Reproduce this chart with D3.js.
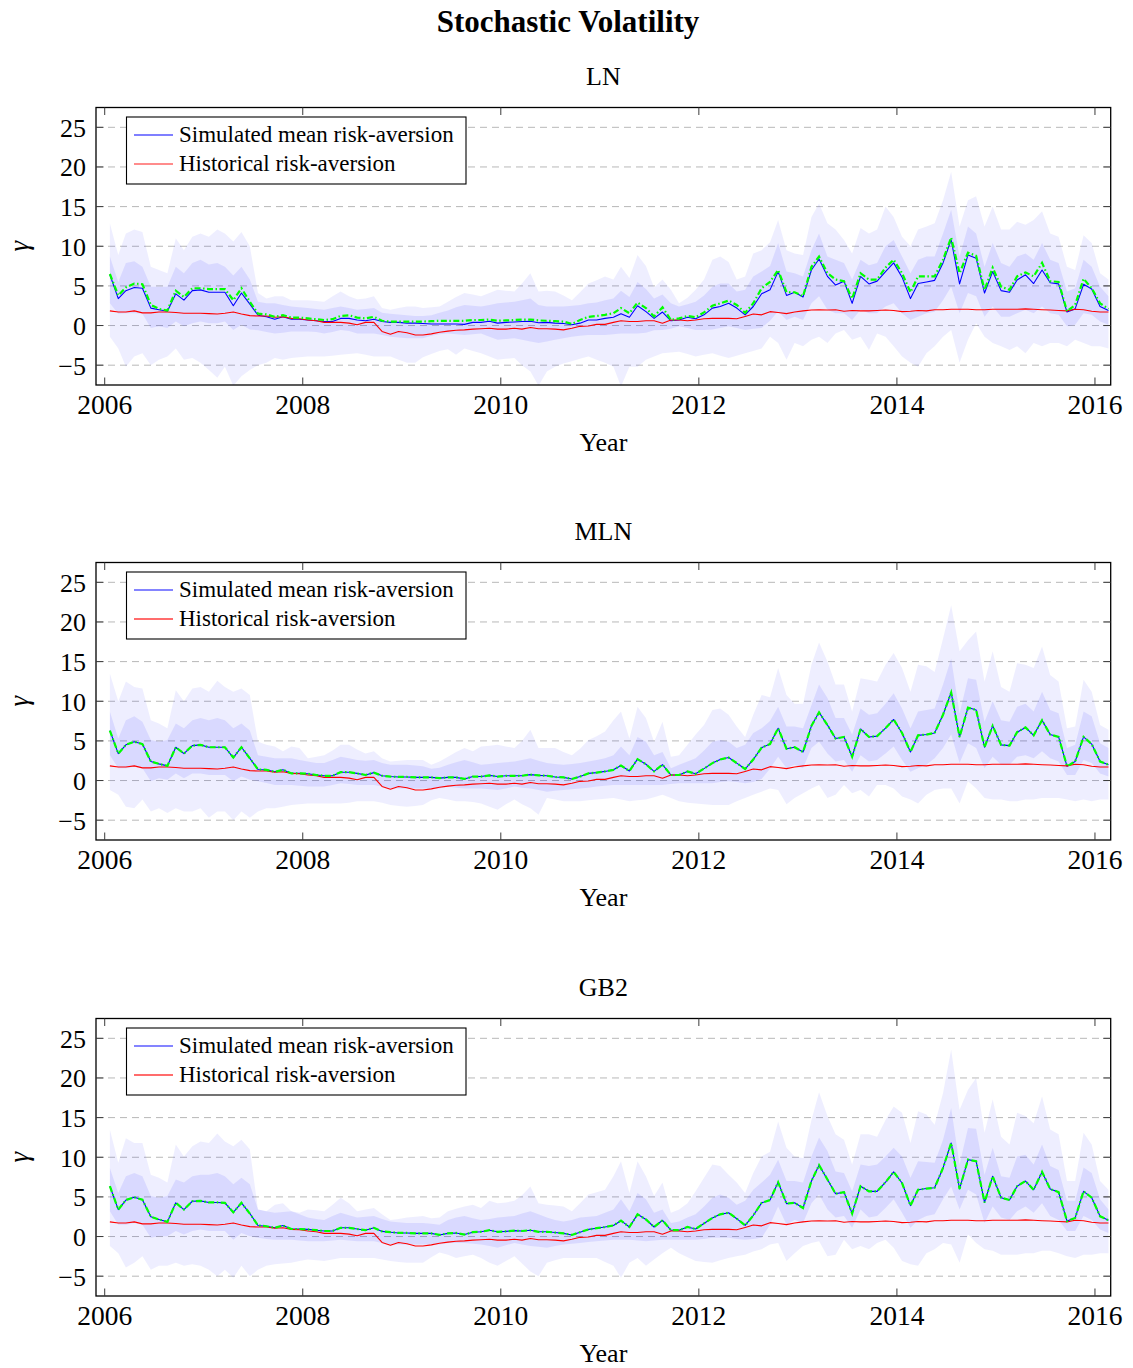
<!DOCTYPE html>
<html>
<head>
<meta charset="utf-8">
<script src="https://cdn.jsdelivr.net/npm/d3@7"></script>
<style>
  body { margin: 0; background: #ffffff; }
  svg { display: block; }
  text { font-family: "Liberation Serif", "Times New Roman", Times, serif; fill: #000; }
</style>
</head>
<body>
<svg id="chart" width="1133" height="1368"></svg>
<script>
// ---------------------------------------------------------------------------
// Monthly observations, Jan 2006 – Feb 2016 (122 months, sampled on the 20th)
// ---------------------------------------------------------------------------
const firstObs = { year: 2006, month: 0, day: 20 };
const obsCount = 122;

const yearTicks = [2006, 2008, 2010, 2012, 2014, 2016];
const gammaTicks = [-5, 0, 5, 10, 15, 20, 25];
const panelTitles = ["LN", "MLN", "GB2"];
const legendLabels = ["Simulated mean risk-aversion", "Historical risk-aversion"];

// Historical risk-aversion (same series in all three panels)
const historical = [
  1.85,1.7,1.7,1.85,1.6,1.6,1.7,1.7,1.65,1.55,
  1.55,1.55,1.5,1.45,1.55,1.7,1.45,1.25,1.2,1.2,
  1.05,1.1,0.9,0.85,0.7,0.6,0.4,0.4,0.4,0.3,
  0.1,0.4,0.4,-0.75,-1.1,-0.75,-0.9,-1.2,-1.2,-1.05,
  -0.85,-0.7,-0.6,-0.55,-0.45,-0.4,-0.35,-0.45,-0.45,-0.35,
  -0.45,-0.25,-0.4,-0.4,-0.45,-0.55,-0.35,-0.1,-0.05,0.15,
  0.15,0.4,0.6,0.5,0.5,0.6,0.6,0.3,0.7,0.7,
  0.6,0.7,0.85,0.9,0.9,0.9,0.85,1.15,1.45,1.35,
  1.75,1.65,1.5,1.7,1.85,1.95,2.0,1.95,2.0,1.8,
  1.9,1.85,1.85,1.9,1.95,1.9,1.75,1.8,1.9,1.85,
  2.0,2.0,2.05,2.05,2.05,2.0,2.0,2.05,2.05,2.05,
  2.05,2.1,2.05,2.0,1.95,1.9,1.85,2.05,2.0,1.8,
  1.7,1.7
];

// ---------------- LN ----------------
const lnMean = [
  6.4,3.4,4.4,4.8,4.7,2.2,2.0,1.8,4.0,3.2,
  4.4,4.5,4.2,4.2,4.2,2.5,4.1,2.7,1.3,1.1,
  0.8,1.1,0.8,0.8,0.7,0.6,0.5,0.5,0.9,0.9,
  0.7,0.6,0.8,0.5,0.4,0.4,0.3,0.3,0.25,0.2,
  0.2,0.2,0.2,0.15,0.4,0.4,0.55,0.3,0.4,0.45,
  0.5,0.55,0.35,0.4,0.3,0.25,0.1,0.3,0.7,0.7,
  0.9,1.05,1.5,1.05,2.5,1.75,0.9,1.7,0.6,0.7,
  1.05,0.85,1.35,2.2,2.4,2.8,2.2,1.35,2.4,4.0,
  4.5,6.8,3.8,4.2,3.6,7.0,8.4,6.2,5.1,5.6,
  2.8,6.2,5.25,5.6,6.8,7.9,6.1,3.4,5.3,5.5,
  5.7,7.9,10.8,5.25,8.9,8.5,4.1,6.8,4.4,4.2,
  5.75,6.4,5.3,7.0,5.4,5.25,1.7,2.1,5.2,4.6,
  2.4,1.9
];
const lnMedian = [
  6.5,3.8,4.8,5.3,5.2,2.6,2.1,1.9,4.4,3.6,
  4.7,4.7,4.6,4.6,4.6,3.2,4.7,3.0,1.5,1.4,
  1.1,1.3,1.0,1.0,0.9,0.8,0.7,0.8,1.2,1.3,
  1.0,0.9,1.1,0.6,0.5,0.5,0.5,0.5,0.5,0.55,
  0.6,0.6,0.6,0.6,0.7,0.7,0.75,0.6,0.65,0.7,
  0.75,0.75,0.65,0.6,0.55,0.5,0.2,0.7,1.1,1.2,
  1.35,1.55,2.2,1.55,2.9,2.2,1.15,2.3,0.7,0.9,
  1.2,1.05,1.65,2.5,2.8,3.15,2.6,1.6,2.8,4.7,
  5.5,7.0,4.2,4.2,3.7,7.4,8.7,6.6,5.8,5.6,
  3.4,6.6,5.8,5.8,7.3,8.3,6.6,4.2,6.2,6.2,
  6.2,8.3,11.1,6.6,9.2,8.8,4.5,7.3,4.9,4.5,
  6.2,6.7,6.2,7.9,5.6,5.5,1.8,2.6,5.9,4.7,
  2.8,2.1
];
const lnOuterHi = [
  12.9,8.9,11.6,12.1,11.8,7.4,7.0,6.6,11.0,9.5,
  11.2,11.6,11.2,12.1,11.6,10.6,11.8,10.0,4.1,3.4,
  3.7,3.7,3.2,3.2,3.2,3.1,3.0,3.7,4.3,3.7,
  3.3,3.4,3.7,2.2,2.0,2.2,2.4,2.4,2.2,2.3,
  2.4,3.0,3.6,4.1,3.9,3.7,4.1,4.5,4.4,4.3,
  5.3,6.6,4.3,4.4,4.3,3.8,3.2,4.2,5.3,5.7,
  6.2,5.8,7.4,6.0,8.9,7.5,4.8,5.8,4.5,2.8,
  3.5,4.5,5.8,8.3,8.7,8.0,5.8,6.2,9.1,9.5,
  10.5,13.3,9.5,9.1,8.9,13.7,15.4,12.9,12.1,10.8,
  9.1,12.3,11.6,12.1,15.0,13.7,11.2,10.0,12.1,12.5,
  12.9,15.8,19.4,12.5,15.8,16.3,12.5,15.0,12.1,12.1,
  13.1,12.7,13.3,14.4,11.6,11.2,7.4,7.0,11.4,10.4,
  6.6,5.8
];
const lnInnerHi = [
  8.7,5.5,7.9,8.1,7.4,4.9,4.9,4.9,7.4,6.6,
  7.9,8.3,7.7,7.9,7.4,6.3,7.4,5.8,3.0,2.8,
  2.8,2.6,2.4,2.3,2.2,2.1,2.0,2.2,2.4,2.2,
  2.0,2.1,2.2,1.6,1.5,1.4,1.3,1.2,1.2,1.3,
  1.6,1.9,2.3,2.6,2.5,2.4,2.6,2.8,2.9,3.0,
  3.2,3.4,2.6,2.4,2.4,2.4,2.5,2.6,2.8,2.9,
  3.2,3.4,4.4,3.6,5.5,4.6,3.4,3.9,2.8,2.4,
  2.7,3.0,3.8,4.9,5.3,5.3,4.3,4.5,6.2,6.8,
  7.5,10.4,6.8,6.6,6.2,9.5,11.6,8.7,8.3,7.9,
  5.8,8.3,7.6,7.9,10.0,10.8,8.7,6.6,8.3,8.7,
  8.7,11.6,14.6,8.7,12.5,11.6,7.4,10.4,7.9,7.4,
  8.7,9.1,8.3,10.4,8.3,7.9,4.3,4.7,8.3,7.4,
  4.9,3.7
];
const lnInnerLo = [
  2.8,1.5,1.55,1.55,1.5,-0.3,-0.1,-0.3,0.5,-0.1,
  0.3,0.5,0.3,0.3,0.5,-0.55,0.1,-0.5,-0.6,-0.8,
  -1.0,-0.9,-0.75,-0.75,-0.75,-0.8,-1.0,-0.8,-0.55,-0.7,
  -1.0,-1.0,-1.0,-1.2,-1.4,-1.5,-1.6,-1.6,-1.6,-1.3,
  -1.1,-1.0,-1.1,-1.2,-1.1,-1.0,-1.4,-1.8,-1.7,-1.6,
  -1.8,-2.0,-2.2,-2.0,-1.8,-1.6,-1.4,-1.3,-1.2,-1.2,
  -1.2,-1.1,-1.0,-1.0,-1.0,-0.9,-0.6,-0.55,-0.4,-0.1,
  -0.3,-0.55,-0.55,-0.5,-0.3,-0.1,-0.3,-0.55,-0.4,-0.3,
  0.6,1.8,0.7,1.1,0.7,2.8,3.7,2.0,1.55,1.55,
  0.7,2.0,1.55,1.55,2.4,2.8,1.55,0.7,1.1,1.55,
  1.75,3.2,4.9,1.55,4.1,3.7,1.1,2.4,1.1,1.1,
  1.55,2.0,1.55,2.4,1.55,1.35,-0.1,0.1,1.55,1.35,
  0.5,0.1
];
const lnOuterLo = [
  -1.4,-2.9,-5.2,-3.9,-3.5,-5.0,-4.3,-3.9,-2.9,-4.3,
  -4.1,-4.7,-5.6,-6.6,-5.2,-7.6,-6.4,-5.6,-5.0,-4.7,
  -4.1,-4.3,-4.1,-4.0,-3.9,-3.9,-3.9,-3.8,-3.7,-3.6,
  -3.5,-3.7,-3.9,-3.9,-3.9,-4.3,-4.7,-4.7,-4.0,-3.6,
  -3.2,-3.0,-3.7,-2.9,-3.2,-3.5,-3.9,-4.3,-4.2,-4.1,
  -5.0,-5.8,-7.6,-5.8,-5.2,-4.8,-4.5,-4.2,-3.9,-4.3,
  -4.7,-5.2,-7.7,-5.2,-5.2,-4.3,-3.9,-3.5,-3.4,-3.3,
  -3.6,-3.9,-3.7,-3.5,-3.8,-4.1,-3.8,-3.5,-3.2,-2.9,
  -1.4,-2.2,-4.3,-2.2,-2.6,-1.8,-1.4,-2.2,-1.0,-0.55,
  -1.8,-1.4,-3.1,-1.0,-1.4,-2.6,-3.9,-4.7,-5.2,-3.5,
  -2.6,-1.4,-0.55,-4.7,-1.8,0.3,-1.4,-2.2,-2.6,-3.1,
  -2.6,-3.5,-2.2,-2.6,-2.2,-2.2,-2.6,-1.8,-2.2,-2.6,
  -2.6,-2.9
];

// ---------------- MLN ----------------
const mlnMean = [
  6.3,3.4,4.5,4.9,4.6,2.4,2.1,1.85,4.2,3.4,
  4.4,4.5,4.2,4.2,4.2,2.9,4.2,2.8,1.4,1.35,
  1.1,1.35,0.9,0.9,0.85,0.7,0.6,0.6,1.05,1.05,
  0.9,0.7,1.0,0.6,0.5,0.45,0.45,0.4,0.4,0.4,
  0.3,0.4,0.4,0.2,0.5,0.5,0.65,0.5,0.6,0.6,
  0.6,0.75,0.65,0.6,0.45,0.4,0.2,0.5,0.9,1.0,
  1.15,1.35,1.9,1.2,2.7,2.05,1.15,2.0,0.7,0.7,
  1.15,0.85,1.5,2.2,2.65,2.9,2.2,1.45,2.65,4.15,
  4.6,6.6,4.0,4.2,3.6,6.9,8.6,7.0,5.3,5.5,
  3.0,6.5,5.5,5.6,6.6,7.7,6.0,3.6,5.7,5.8,
  6.0,8.3,11.1,5.5,9.2,8.9,4.2,6.9,4.5,4.4,
  6.1,6.7,5.7,7.6,5.8,5.5,1.8,2.4,5.5,4.6,
  2.4,2.0
];
const mlnMedian = mlnMean.slice();
const mlnOuterHi = [
  13.5,10.0,12.5,11.8,11.6,7.6,7.2,6.6,11.4,10.0,
  11.6,11.8,11.2,12.6,11.8,11.2,11.6,10.8,4.9,4.5,
  4.3,3.7,4.3,4.1,2.8,3.0,3.2,3.8,4.5,4.5,
  3.9,3.4,3.7,2.8,2.4,2.5,2.6,2.6,2.6,2.0,
  2.4,3.0,3.6,4.1,3.7,4.3,4.4,4.5,4.3,4.1,
  5.0,6.4,4.1,4.1,4.1,3.6,3.2,4.0,5.1,5.6,
  6.2,7.6,8.7,5.3,9.3,7.9,4.9,7.4,3.0,3.2,
  4.5,5.8,7.0,8.9,9.1,8.3,6.8,5.5,8.3,10.8,
  10.5,14.2,10.8,9.7,9.7,14.6,17.4,15.0,12.1,12.1,
  8.7,12.9,12.7,12.5,14.6,16.1,14.2,11.2,14.6,14.4,
  13.7,17.9,22.1,16.3,17.7,18.8,12.5,16.3,11.8,11.2,
  14.8,14.6,14.2,16.9,13.3,12.5,6.6,6.8,12.7,11.2,
  7.0,6.4
];
const mlnInnerHi = [
  8.7,5.3,7.6,8.1,7.4,5.1,4.9,5.1,7.2,6.6,
  7.6,7.9,7.6,7.9,7.6,6.6,7.2,6.3,3.2,3.0,
  2.8,2.8,2.8,2.6,2.4,2.2,2.2,2.6,3.0,2.8,
  2.6,2.5,2.6,2.2,2.0,2.0,2.0,1.9,1.8,1.5,
  1.6,2.0,2.3,2.6,2.3,2.0,2.1,2.2,2.3,2.4,
  2.6,2.8,2.5,2.2,2.1,2.0,2.1,2.2,2.4,2.6,
  2.8,3.2,4.3,3.2,5.5,4.9,3.2,3.6,1.55,2.0,
  2.4,2.8,3.8,4.9,5.1,4.9,4.1,4.5,6.0,6.6,
  7.5,9.3,6.8,6.8,6.6,9.5,12.1,10.4,7.9,7.9,
  5.8,9.1,8.3,8.5,9.7,11.0,9.1,6.6,8.7,8.9,
  9.1,12.1,15.4,8.5,12.9,12.7,7.4,10.0,7.6,7.4,
  9.3,9.7,8.7,11.2,8.9,8.5,4.1,4.5,8.7,8.1,
  4.7,4.1
];
const mlnInnerLo = [
  3.2,1.55,1.55,1.75,1.55,-0.1,0.3,0.1,0.9,0.3,
  0.9,0.9,0.7,0.7,0.7,-0.1,0.5,0.1,-0.1,-0.3,
  -0.55,-0.55,-0.55,-0.65,-0.75,-0.75,-0.75,-0.55,-0.35,-0.45,
  -0.55,-0.55,-0.55,-0.75,-1.0,-1.0,-1.0,-1.0,-1.0,-1.0,
  -1.0,-0.75,-0.9,-1.0,-1.0,-1.0,-1.1,-1.2,-1.0,-0.75,
  -0.9,-1.0,-1.2,-1.4,-1.3,-1.2,-1.1,-1.0,-0.9,-0.75,
  -0.65,-0.55,-0.55,-0.55,-0.55,-0.55,-0.55,-0.55,-0.45,-0.35,
  -0.35,-0.35,-0.35,-0.35,-0.2,-0.1,-0.2,-0.35,-0.2,0.2,
  1.5,3.0,1.55,2.0,1.55,4.1,4.9,3.4,2.4,2.6,
  1.1,3.2,2.4,2.6,3.4,4.3,2.6,1.1,1.55,2.0,
  2.8,4.1,5.8,2.2,4.7,4.1,1.55,3.0,2.0,2.0,
  3.0,3.2,2.8,3.7,2.8,2.4,0.7,0.7,2.6,2.2,
  0.9,0.5
];
const mlnOuterLo = [
  -1.2,-1.8,-3.3,-3.5,-2.4,-3.9,-3.5,-4.1,-3.5,-3.9,
  -3.9,-3.5,-4.7,-3.9,-3.9,-5.0,-3.9,-4.7,-3.9,-3.5,
  -3.5,-3.3,-3.1,-3.0,-2.9,-2.9,-2.9,-2.9,-2.9,-2.8,
  -2.6,-2.6,-2.6,-2.8,-3.1,-3.2,-3.3,-3.2,-3.1,-2.5,
  -2.2,-2.4,-2.6,-2.6,-2.7,-2.9,-3.3,-3.7,-3.0,-2.4,
  -3.0,-3.5,-4.3,-2.2,-2.4,-2.6,-2.6,-2.6,-2.5,-2.4,
  -2.3,-2.2,-2.4,-2.6,-2.5,-2.4,-2.1,-1.8,-2.2,-2.6,
  -2.8,-2.9,-3.0,-3.1,-3.1,-3.1,-2.6,-2.2,-1.8,-1.4,
  -1.0,-1.2,-3.0,-2.2,-1.6,-1.0,-0.55,-2.2,-1.8,-0.55,
  -1.6,-1.2,-2.0,-0.55,-0.55,-1.0,-2.0,-2.4,-2.9,-1.8,
  -1.2,-1.0,-1.0,-2.9,-0.1,-1.0,-2.2,-2.4,-2.4,-2.6,
  -2.6,-2.4,-2.4,-2.2,-2.2,-2.2,-2.4,-2.6,-2.4,-2.6,
  -2.4,-2.4
];

// ---------------- GB2 ----------------
const gb2Mean = [
  6.35,3.4,4.6,4.95,4.65,2.5,2.15,1.85,4.25,3.4,
  4.45,4.5,4.3,4.3,4.25,3.05,4.25,2.9,1.4,1.3,
  1.1,1.4,0.95,0.95,0.9,0.8,0.7,0.7,1.1,1.1,
  0.95,0.8,1.1,0.65,0.55,0.45,0.45,0.4,0.4,0.4,
  0.2,0.4,0.45,0.25,0.55,0.6,0.8,0.6,0.65,0.75,
  0.7,0.8,0.6,0.6,0.5,0.4,0.2,0.55,0.9,1.05,
  1.2,1.4,2.0,1.2,2.8,2.15,1.2,2.05,0.8,0.8,
  1.2,0.95,1.65,2.35,2.8,3.0,2.25,1.4,2.65,4.25,
  4.6,6.85,4.15,4.25,3.6,7.0,9.0,7.2,5.4,5.6,
  2.9,6.35,5.7,5.7,6.85,8.15,6.75,3.9,5.9,6.05,
  6.15,8.65,11.8,6.0,9.7,9.5,4.3,7.6,4.9,4.6,
  6.35,7.0,5.9,8.15,6.0,5.6,1.95,2.35,5.7,4.9,
  2.55,2.05
];
const gb2Median = gb2Mean.slice();
const gb2OuterHi = [
  13.5,9.3,12.4,11.8,11.8,7.8,7.4,6.8,11.6,10.1,
  11.4,12.0,11.8,13.0,12.0,11.4,12.2,11.0,3.4,3.2,
  4.0,4.2,3.2,3.0,3.4,3.3,3.2,4.0,4.9,4.2,
  3.2,3.4,3.6,2.8,2.1,2.2,2.4,2.5,2.6,2.3,
  2.4,3.2,3.5,3.8,4.0,3.6,4.5,4.2,4.3,4.5,
  5.2,6.3,4.2,4.0,3.9,3.8,3.2,4.2,5.3,5.6,
  5.9,7.6,9.5,5.5,9.5,7.6,5.1,6.8,3.0,3.4,
  4.2,5.7,7.4,9.1,8.9,7.8,6.8,5.5,8.0,10.1,
  10.7,14.5,11.2,10.1,9.9,14.7,18.2,15.2,12.9,12.2,
  9.1,12.9,12.9,12.6,14.7,16.4,15.6,11.8,15.8,15.4,
  14.1,18.1,23.6,16.0,18.5,20.0,13.1,17.3,12.6,11.6,
  15.6,15.2,14.3,17.7,13.5,12.9,7.0,7.0,13.1,11.6,
  7.0,5.9
];
const gb2InnerHi = [
  8.65,5.5,7.6,8.0,7.6,5.1,4.9,5.1,7.2,6.8,
  7.6,7.8,7.8,8.0,7.6,6.6,7.4,6.6,3.4,3.2,
  3.0,3.1,3.2,2.8,2.4,2.2,2.1,2.6,3.0,2.7,
  2.4,2.5,2.6,2.2,1.9,1.8,1.7,1.7,1.7,1.6,
  1.5,2.1,2.4,2.6,2.3,2.1,2.2,2.4,2.5,2.6,
  2.9,3.2,2.8,2.4,2.1,1.9,2.1,2.4,2.5,2.6,
  3.0,3.4,4.7,3.2,5.5,4.7,3.0,3.4,1.7,1.9,
  2.4,2.8,3.8,4.9,5.3,4.9,4.0,4.5,5.9,6.8,
  7.8,9.7,7.0,7.0,6.8,10.1,12.5,10.8,8.2,8.0,
  5.7,9.1,8.9,9.1,10.1,11.2,10.1,7.4,9.5,9.4,
  9.3,12.2,16.2,9.1,13.7,13.6,7.8,11.2,7.6,7.4,
  10.1,10.3,9.1,11.6,8.9,8.4,4.5,4.5,8.7,8.0,
  4.7,3.4
];
const gb2InnerLo = [
  3.2,1.5,1.5,1.7,1.5,-0.15,0.05,0.05,0.7,0.25,
  0.7,0.9,0.7,0.7,0.7,-0.4,0.45,0.05,-0.15,-0.3,
  -0.4,-0.4,-0.4,-0.5,-0.6,-0.6,-0.6,-0.5,-0.4,-0.5,
  -0.6,-0.6,-0.6,-0.8,-1.0,-1.0,-1.0,-1.0,-1.0,-1.0,
  -1.0,-0.8,-0.8,-0.8,-0.9,-1.0,-1.2,-1.4,-1.1,-0.8,
  -1.0,-1.2,-1.3,-1.4,-1.2,-1.0,-0.9,-0.8,-0.7,-0.6,
  -0.5,-0.4,-0.4,-0.4,-0.5,-0.6,-0.5,-0.4,-0.4,-0.4,
  -0.4,-0.4,-0.3,-0.15,-0.15,-0.15,-0.3,-0.4,-0.3,-0.15,
  1.5,3.8,1.5,2.1,1.7,4.2,5.3,3.4,2.4,2.6,
  1.1,3.4,2.4,2.6,3.6,4.7,3.0,1.1,2.1,2.6,
  2.8,4.7,6.3,3.4,5.9,5.3,1.7,3.8,2.4,2.1,
  3.2,3.8,3.0,4.2,2.6,2.1,0.7,0.7,2.6,2.1,
  0.9,0.45
];
const gb2OuterLo = [
  -1.2,-2.1,-3.9,-3.3,-2.5,-4.2,-3.7,-3.7,-3.3,-3.7,
  -3.5,-3.7,-4.2,-5.0,-4.2,-5.2,-3.7,-5.0,-4.2,-3.7,
  -3.5,-3.4,-3.3,-3.1,-2.9,-3.0,-3.1,-2.9,-2.7,-2.7,
  -2.7,-2.7,-2.7,-2.9,-3.1,-3.2,-3.3,-3.3,-3.3,-2.6,
  -2.0,-2.3,-2.7,-2.5,-2.3,-2.7,-3.3,-3.7,-3.1,-2.5,
  -3.4,-4.4,-5.0,-3.3,-3.0,-2.7,-2.7,-2.7,-2.7,-2.7,
  -3.2,-3.7,-5.2,-3.3,-2.7,-3.7,-2.9,-2.1,-1.4,-2.1,
  -2.6,-3.1,-3.2,-3.3,-3.0,-2.7,-2.5,-2.3,-1.9,-1.6,
  -1.0,-0.8,-3.1,-2.1,-1.2,-0.8,-0.6,-2.5,-2.3,-0.4,
  -1.6,-1.2,-1.6,-0.8,-0.4,-1.4,-3.1,-3.5,-3.7,-2.1,
  -1.6,-0.8,-1.0,-3.3,0.25,-0.8,-1.6,-1.8,-2.3,-2.3,
  -2.3,-2.1,-2.1,-1.8,-1.8,-2.1,-2.5,-2.7,-2.3,-2.3,
  -2.1,-2.1
];

// ---------------------------------------------------------------------------
// Layout
// ---------------------------------------------------------------------------
const svg = d3.select("#chart");
const plotLeft = 96, plotRight = 1110.7;
const panelTops = [107.5, 562.5, 1018.5];
const panelHeight = 277.5;

// Observation dates as fractional years
const obsYears = d3.range(obsCount).map(i => {
  const d = new Date(firstObs.year, firstObs.month + i, firstObs.day);
  const y = d.getFullYear();
  const start = new Date(y, 0, 1), end = new Date(y + 1, 0, 1);
  return y + (d - start) / (end - start);
});

const x = d3.scaleLinear().domain([2005.912, 2016.159]).range([plotLeft, plotRight]);

const panels = [
  { title: panelTitles[0], mean: lnMean,  median: lnMedian,  outerLo: lnOuterLo,  outerHi: lnOuterHi,  innerLo: lnInnerLo,  innerHi: lnInnerHi,  legendBlue: "#0000ff", legendRed: "#ff1a1a", legendWidth: 1.2 },
  { title: panelTitles[1], mean: mlnMean, median: mlnMedian, outerLo: mlnOuterLo, outerHi: mlnOuterHi, innerLo: mlnInnerLo, innerHi: mlnInnerHi, legendBlue: "#5b5bff", legendRed: "#ff3b3b", legendWidth: 1.6 },
  { title: panelTitles[2], mean: gb2Mean, median: gb2Median, outerLo: gb2OuterLo, outerHi: gb2OuterHi, innerLo: gb2InnerLo, innerHi: gb2InnerHi, legendBlue: "#5b5bff", legendRed: "#ff3b3b", legendWidth: 1.6 }
];

// Figure title
svg.append("text")
  .attr("x", 568).attr("y", 32)
  .attr("text-anchor", "middle")
  .style("font-size", "31px").style("font-weight", "bold")
  .text("Stochastic Volatility");

panels.forEach((p, k) => {
  const top = panelTops[k], bottom = top + panelHeight;
  const y = d3.scaleLinear().domain([-7.5, 27.5]).range([bottom, top]);
  const g = svg.append("g");

  const clipId = "clip-" + k;
  g.append("clipPath").attr("id", clipId)
    .append("rect").attr("x", plotLeft).attr("y", top)
    .attr("width", plotRight - plotLeft).attr("height", panelHeight);

  // panel title
  g.append("text")
    .attr("x", (plotLeft + plotRight) / 2).attr("y", top - 23)
    .attr("text-anchor", "middle").style("font-size", "26px")
    .text(p.title);

  // horizontal dashed grid
  g.append("g").selectAll("line").data(gammaTicks).join("line")
    .attr("x1", plotLeft).attr("x2", plotRight)
    .attr("y1", d => y(d)).attr("y2", d => y(d))
    .attr("stroke", "#b8b8b8").attr("stroke-width", 1)
    .attr("stroke-dasharray", "7,5");

  const body = g.append("g").attr("clip-path", `url(#${clipId})`);

  // quantile bands
  const band = (lo, hi) => d3.area()
    .x((d, i) => x(obsYears[i]))
    .y0((d, i) => y(lo[i]))
    .y1((d, i) => y(hi[i]))(obsYears);

  body.append("path").attr("d", band(p.outerLo, p.outerHi))
    .attr("fill", "#0000ff").attr("fill-opacity", 0.065);
  body.append("path").attr("d", band(p.innerLo, p.innerHi))
    .attr("fill", "#0000ff").attr("fill-opacity", 0.085);

  const line = vals => d3.line()
    .x((d, i) => x(obsYears[i]))
    .y((d, i) => y(vals[i]))(obsYears);

  body.append("path").attr("d", line(p.mean))
    .attr("fill", "none").attr("stroke", "#0000ff").attr("stroke-width", 1.1)
    .attr("stroke-linejoin", "round");
  body.append("path").attr("d", line(historical))
    .attr("fill", "none").attr("stroke", "#ff0000").attr("stroke-width", 1.1)
    .attr("stroke-linejoin", "round");
  body.append("path").attr("d", line(p.median))
    .attr("fill", "none").attr("stroke", "#00ff00").attr("stroke-width", 2.2)
    .attr("stroke-dasharray", "6,2.5,1.5,2.5");

  // axis frame
  g.append("rect")
    .attr("x", plotLeft).attr("y", top)
    .attr("width", plotRight - plotLeft).attr("height", panelHeight)
    .attr("fill", "none").attr("stroke", "#000").attr("stroke-width", 1.3);

  // ticks (inside, on all four sides)
  const tl = 7.5;
  const ticks = g.append("g").attr("stroke", "#3a3a3a").attr("stroke-width", 1);
  yearTicks.forEach(t => {
    ticks.append("line").attr("x1", x(t)).attr("x2", x(t)).attr("y1", bottom).attr("y2", bottom - tl);
    ticks.append("line").attr("x1", x(t)).attr("x2", x(t)).attr("y1", top).attr("y2", top + tl);
  });
  gammaTicks.forEach(t => {
    ticks.append("line").attr("x1", plotLeft).attr("x2", plotLeft + tl).attr("y1", y(t)).attr("y2", y(t));
    ticks.append("line").attr("x1", plotRight).attr("x2", plotRight - tl).attr("y1", y(t)).attr("y2", y(t));
  });

  // tick labels
  g.append("g").selectAll("text").data(yearTicks).join("text")
    .attr("x", d => x(d)).attr("y", bottom + 29)
    .attr("text-anchor", "middle").style("font-size", "27.5px")
    .text(d => d);
  g.append("g").selectAll("text").data(gammaTicks).join("text")
    .attr("x", 86).attr("y", d => y(d) + 9.5)
    .attr("text-anchor", "end").style("font-size", "26px")
    .text(d => d < 0 ? "\u2212" + Math.abs(d) : d);

  // axis labels
  g.append("text")
    .attr("x", (plotLeft + plotRight) / 2).attr("y", bottom + 66)
    .attr("text-anchor", "middle").style("font-size", "26px")
    .text("Year");
  g.append("text")
    .attr("transform", `translate(28,${(top + bottom) / 2}) rotate(-90)`)
    .attr("text-anchor", "middle").style("font-size", "27px").style("font-style", "italic")
    .text("\u03b3");

  // legend
  const lg = g.append("g");
  lg.append("rect")
    .attr("x", 126.5).attr("y", top + 9.5).attr("width", 339.5).attr("height", 67)
    .attr("fill", "#fff").attr("stroke", "#000").attr("stroke-width", 1.1);
  [p.legendBlue, p.legendRed].forEach((c, j) => {
    const cy = top + 27.5 + j * 29;
    lg.append("line").attr("x1", 134).attr("x2", 173).attr("y1", cy).attr("y2", cy)
      .attr("stroke", c).attr("stroke-width", p.legendWidth);
    lg.append("text").attr("x", 179).attr("y", cy + 7)
      .style("font-size", "23px").text(legendLabels[j]);
  });
});
</script>
</body>
</html>
